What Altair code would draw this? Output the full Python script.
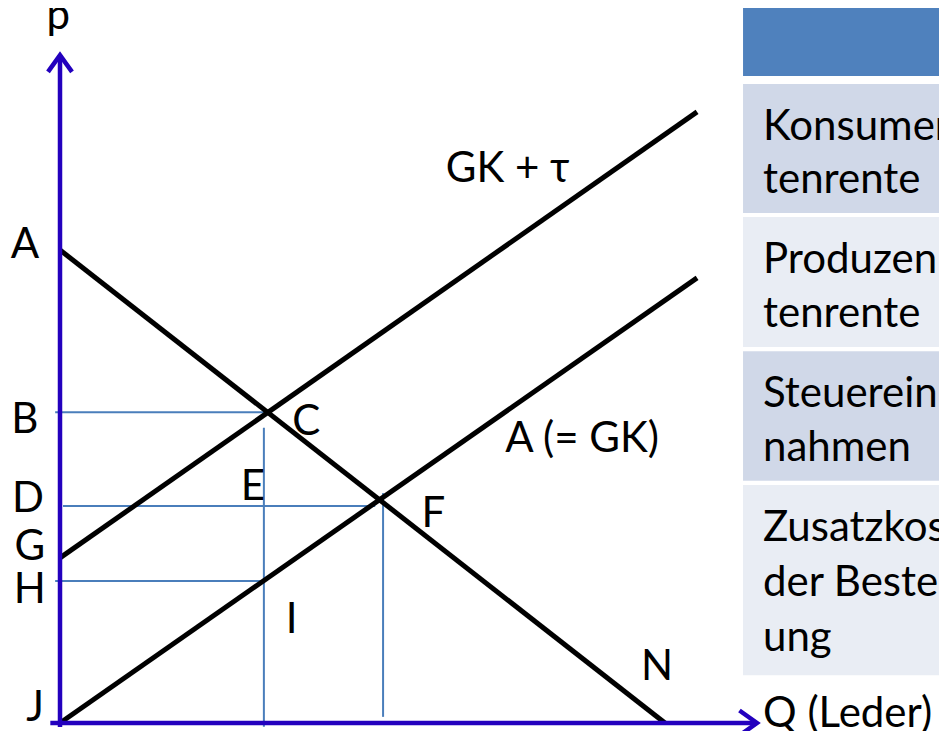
import altair as alt
import pandas as pd

# ---- economic values (Q = quantity, p = price) ----
# demand line A -> N
demand_q = [0.0, 100.0]
demand_p = [100.0, 0.0]
# supply A (= GK) from J
supply_q = [0.0, 105.3]
supply_p = [0.0, 94.1]
# supply with tax GK + tau, from G
tax_q = [0.0, 105.3]
tax_p = [34.9, 129.2]

# thin blue guide lines (q, p, q2, p2)
guide_q = [-0.8, 0.5, -0.8, 33.7, 53.4]
guide_p = [65.7, 45.9, 30.0, 62.4, 48.6]
guide_q2 = [34.2, 52.1, 33.7, 33.7, 53.4]
guide_p2 = [65.7, 45.9, 30.0, -0.8, 1.3]

# axes (blue) with arrow tips
axis_q = [0.0, -1.6]
axis_p = [-0.85, 0.0]
axis_q2 = [0.0, 115.2]
axis_p2 = [141.2, 0.0]

# point labels
label_text = ["A", "B", "D", "G", "H", "J", "C", "E", "F", "I", "N",
              "GK + τ", "A (= GK)", "p"]
label_q = [-5.8, -5.8, -5.3, -5.0, -5.0, -4.1, 40.7, 31.9, 61.7, 38.3, 98.7,
           74.0, 86.3, -0.3]
label_p = [98.3, 61.3, 44.6, 34.5, 25.4, 0.4, 60.9, 47.1, 41.4, 19.0, 9.1,
           114.4, 57.3, 146.7]
x_axis_title = "Q (Leder)"

# table on the right (rows cut off by the slide edge)
table_q1 = [112.9, 112.9, 112.9, 112.9, 112.9]
table_q2 = [146.6, 146.6, 146.6, 146.6, 146.6]
table_p1 = [152.9, 135.1, 107.0, 78.6, 50.3]
table_p2 = [136.8, 107.8, 79.5, 51.2, 10.1]
table_fill = ["#4F81BD", "#D0D8E8", "#E9EDF4", "#D0D8E8", "#E9EDF4"]

table_text = ["Konsumen-", "tenrente", "Produzen-", "tenrente",
              "Steuerein-", "nahmen", "Zusatzkosten", "der Besteuer-", "ung"]
table_text_q = [116.2, 116.2, 116.2, 116.2, 116.2, 116.2, 116.2, 116.2, 116.2]
table_text_p = [123.3, 112.0, 95.1, 83.7, 66.8, 55.4, 38.5, 26.9, 15.3]

FONT = "Lato"
FS = 42
BLUE_AXIS = "#2300BE"
BLUE_GUIDE = "#4A7EBB"

xs = alt.Scale(domain=[-8.595, 145.29], nice=False, zero=False)
ys = alt.Scale(domain=[-1.691, 151.16], nice=False, zero=False)

def X(f="q"):
    return alt.X(f"{f}:Q", scale=xs, axis=None)

def Y(f="p"):
    return alt.Y(f"{f}:Q", scale=ys, axis=None)

# tables
rect_df = pd.DataFrame({"q": table_q1, "q2": table_q2, "p": table_p1,
                        "p2": table_p2, "fill": table_fill})
rects = alt.Chart(rect_df).mark_rect().encode(
    x=X(), x2="q2:Q", y=Y(), y2="p2:Q",
    color=alt.Color("fill:N", scale=None))

ttext_df = pd.DataFrame({"q": table_text_q, "p": table_text_p, "t": table_text})
ttext = alt.Chart(ttext_df).mark_text(
    align="left", baseline="alphabetic", font=FONT, fontSize=FS,
    color="black").encode(x=X(), y=Y(), text="t:N")

# guide lines
guide_df = pd.DataFrame({"q": guide_q, "p": guide_p, "q2": guide_q2, "p2": guide_p2})
guides = alt.Chart(guide_df).mark_rule(color=BLUE_GUIDE, strokeWidth=2).encode(
    x=X(), y=Y(), x2="q2:Q", y2="p2:Q")

# black curves
curve_df = pd.DataFrame({
    "q": [demand_q[0], supply_q[0], tax_q[0]],
    "p": [demand_p[0], supply_p[0], tax_p[0]],
    "q2": [demand_q[1], supply_q[1], tax_q[1]],
    "p2": [demand_p[1], supply_p[1], tax_p[1]],
})
curves = alt.Chart(curve_df).mark_rule(color="black", strokeWidth=5).encode(
    x=X(), y=Y(), x2="q2:Q", y2="p2:Q")

# axes
axis_df = pd.DataFrame({"q": axis_q, "p": axis_p, "q2": axis_q2, "p2": axis_p2})
axes = alt.Chart(axis_df).mark_rule(color=BLUE_AXIS, strokeWidth=4.5).encode(
    x=X(), y=Y(), x2="q2:Q", y2="p2:Q")

up_df = pd.DataFrame({"q": [axis_q2[0]], "p": [axis_p2[0]]})
up_arrow = alt.Chart(up_df).mark_point(
    shape="M-1,1.4L0,0L1,1.4", size=576, filled=False, color=BLUE_AXIS,
    strokeWidth=4.5, opacity=1).encode(x=X(), y=Y())

right_df = pd.DataFrame({"q": [axis_q2[1]], "p": [axis_p2[1]]})
right_arrow = alt.Chart(right_df).mark_point(
    shape="M-1.4,-1L0,0L-1.4,1", size=625, filled=False, color=BLUE_AXIS,
    strokeWidth=4.5, opacity=1).encode(x=X(), y=Y())

# labels
lab_df = pd.DataFrame({"q": label_q, "p": label_p, "t": label_text})
labels = alt.Chart(lab_df).mark_text(
    align="center", baseline="alphabetic", font=FONT, fontSize=FS,
    color="black").encode(x=X(), y=Y(), text="t:N")

xt_df = pd.DataFrame({"q": [116.2], "p": [-0.9], "t": [x_axis_title]})
xtitle = alt.Chart(xt_df).mark_text(
    align="left", baseline="alphabetic", font=FONT, fontSize=FS,
    color="black").encode(x=X(), y=Y(), text="t:N")

chart = alt.layer(
    rects, ttext, guides, curves, axes, up_arrow, right_arrow, labels, xtitle
).properties(
    width=931, height=723,
    autosize=alt.AutoSizeParams(type="none"),
    padding=0, background="white"
).configure_view(stroke=None)

chart.save("out.html", embed_options={"renderer": "svg", "actions": False})
